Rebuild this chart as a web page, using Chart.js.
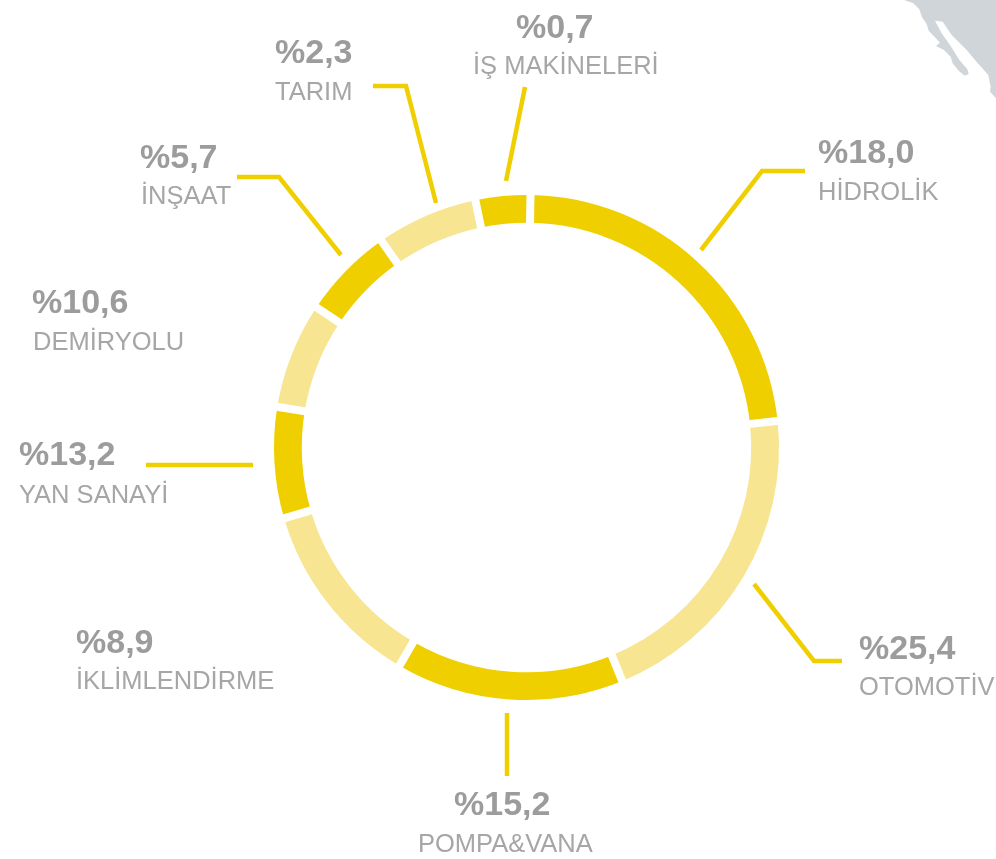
<!DOCTYPE html>
<html lang="tr">
<head>
<meta charset="utf-8">
<title>Sektörel dağılım</title>
<script src="https://cdn.jsdelivr.net/npm/chart.js@4"></script>
<style>
  html, body { margin: 0; background: #fff; }
  #wrap { position: relative; width: 996px; height: 859px; overflow: hidden; }
  #map { position: absolute; left: 860px; top: 0; }
  canvas { position: absolute; left: 0; top: 0; }
</style>
</head>
<body>
<div id="wrap">
  <svg id="map" width="136" height="110" viewBox="0 0 408 330">
    <path fill="#cfd5d9" d="M133,0 L160,10 L178,28 L186,52 L200,72 L206,92 L225,112 L240,128 L228,138 L252,150 L272,170 L278,190 L296,212 L314,227 L326,222 L322,208 L298,180 L270,135 L245,100 L225,62 L248,65 L275,105 L320,150 L345,180 L385,225 L392,260 L390,275 L408,295 L408,0 Z"/>
  </svg>
  <canvas id="ringChart" width="996" height="859"></canvas>
</div>
<script>
const categories = ['HİDROLİK', 'OTOMOTİV', 'POMPA&VANA', 'İKLİMLENDİRME', 'YAN SANAYİ', 'DEMİRYOLU', 'İNŞAAT', 'TARIM', 'İŞ MAKİNELERİ']
// printed figures, as they stand in the picture
const printedValues = ['%18,0', '%25,4', '%15,2', '%8,9', '%13,2', '%10,6', '%5,7', '%2,3', '%0,7']
// arc shares measured off the ring (the source ring does not follow the printed figures)
const arcShares = [23.1, 20.5, 14.6, 12.1, 7.1, 6.8, 5.9, 6.5, 3.5]
const sliceColors = ['#f0cf00', '#f7e592', '#f0cf00', '#f7e592', '#f0cf00', '#f7e592', '#f0cf00', '#f7e592', '#f0cf00']

// label anchors, same order as categories: [value x, value baseline, name x, name baseline]
const labelSpots = [
  [818, 163, 818, 200],
  [859, 659, 859, 695],
  [454, 815, 418, 852],
  [76, 653, 76, 689],
  [19, 465, 19, 503],
  [32, 313, 33, 350],
  [140, 168, 141, 204],
  [275, 63, 275, 100],
  [516, 38, 473, 74]
]

const leaders = [
  [[805, 171], [762, 171], [701, 250]],
  [[754, 584], [814, 661], [842, 661]],
  [[507, 713], [507, 776]],
  [[146, 465], [253, 465]],
  [[237, 177], [279, 177], [341, 255]],
  [[373, 86], [406, 86], [436, 203]],
  [[525, 87], [506, 181]]
]

// white cuts between the slices, same width all along (the spacing option tapers)
const gapPlugin = {
  id: 'gaps',
  afterDatasetsDraw(chart) {
    const ctx = chart.ctx
    ctx.save()
    ctx.strokeStyle = '#fff'
    ctx.lineWidth = 8
    chart.getDatasetMeta(0).data.forEach(arc => {
      const cos = Math.cos(arc.startAngle)
      const sin = Math.sin(arc.startAngle)
      ctx.beginPath()
      ctx.moveTo(arc.x + cos * (arc.innerRadius - 2), arc.y + sin * (arc.innerRadius - 2))
      ctx.lineTo(arc.x + cos * (arc.outerRadius + 2), arc.y + sin * (arc.outerRadius + 2))
      ctx.stroke()
    })
    ctx.restore()
  }
}

const calloutPlugin = {
  id: 'callouts',
  afterDraw(chart) {
    const ctx = chart.ctx
    ctx.save()
    ctx.strokeStyle = '#f0cf00'
    ctx.lineWidth = 4.5
    ctx.lineJoin = 'miter'
    leaders.forEach(pts => {
      ctx.beginPath()
      pts.forEach((p, i) => i ? ctx.lineTo(p[0], p[1]) : ctx.moveTo(p[0], p[1]))
      ctx.stroke()
    })
    ctx.textAlign = 'left'
    ctx.textBaseline = 'alphabetic'
    categories.forEach((name, i) => {
      const s = labelSpots[i]
      ctx.fillStyle = '#9c9c9c'
      ctx.font = 'bold 34px "Liberation Sans"'
      ctx.fillText(printedValues[i], s[0], s[1])
      ctx.fillStyle = '#a6a6a6'
      ctx.font = '25.5px "Liberation Sans"'
      ctx.fillText(name, s[2], s[3])
    })
    ctx.restore()
  }
}

new Chart(document.getElementById('ringChart'), {
  type: 'doughnut',
  data: {
    labels: categories,
    datasets: [{
      data: arcShares,
      backgroundColor: sliceColors,
      borderWidth: 0
    }]
  },
  options: {
    responsive: false,
    animation: false,
    rotation: 0.9,
    cutout: '89%',
    layout: { padding: { left: 274, right: 217, top: 195, bottom: 159 } },
    plugins: { legend: { display: false }, tooltip: { enabled: false } }
  },
  plugins: [gapPlugin, calloutPlugin]
})
</script>
</body>
</html>
